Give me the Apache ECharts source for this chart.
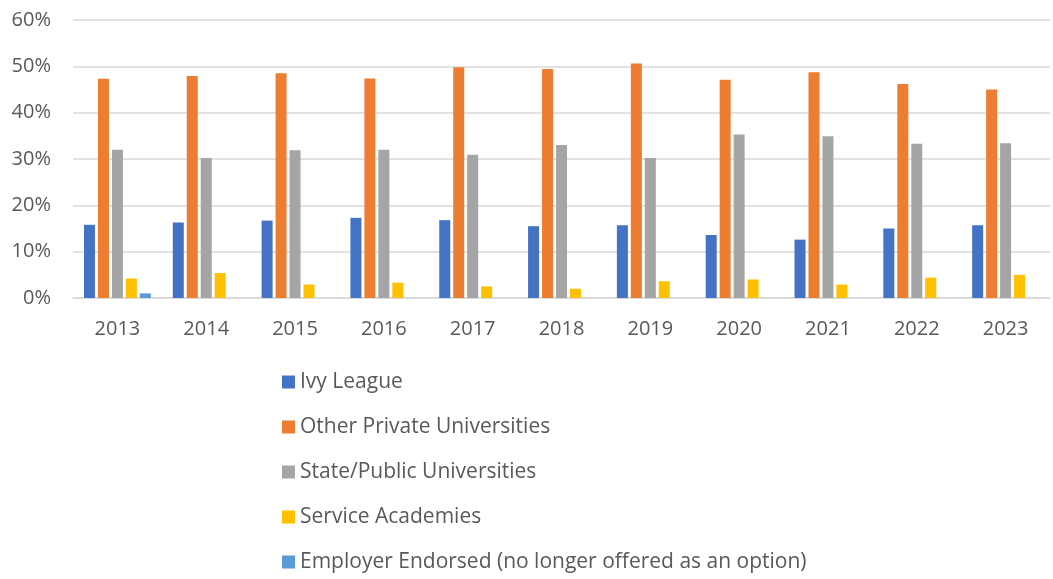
<!DOCTYPE html>
<html lang="en">
<head>
  <meta charset="utf-8">
  <title>Enrollment by school type</title>
  <script src="https://cdn.jsdelivr.net/npm/echarts@6/dist/echarts.min.js"></script>
  <style>
    html, body, #main { width: 100%; height: 100%; margin: 0; padding: 0; overflow: hidden; background: #fff; }
  </style>
</head>
<body>
  <div id="main"></div>
  <script>
    var years = ['2013', '2014', '2015', '2016', '2017', '2018', '2019', '2020', '2021', '2022', '2023'];
    var ivyLeague = [15.8, 16.3, 16.7, 17.3, 16.8, 15.5, 15.7, 13.6, 12.6, 15.0, 15.7];
    var otherPrivate = [47.3, 47.9, 48.5, 47.4, 49.8, 49.4, 50.6, 47.1, 48.7, 46.2, 45.0];
    var statePublic = [32.0, 30.2, 31.9, 32.0, 30.9, 33.0, 30.2, 35.3, 34.9, 33.3, 33.4];
    var serviceAcademies = [4.2, 5.4, 2.9, 3.3, 2.5, 2.0, 3.6, 4.0, 2.9, 4.4, 5.0];
    var employerEndorsed = [1.0, null, null, null, null, null, null, null, null, null, null];

    var font = 'Open Sans';
    var chart = echarts.init(document.getElementById('main'));

    function bar(name, data, color) {
      return {
        name: name,
        type: 'bar',
        data: data,
        barWidth: 11,
        barGap: '27%',
        itemStyle: { color: color }
      };
    }

    chart.setOption({
      animation: false,
      grid: { left: 73, right: 3, top: 20, bottom: 281 },
      legend: {
        orient: 'vertical',
        left: 282,
        top: 371,
        height: 208,
        padding: 0,
        icon: 'rect',
        itemWidth: 13,
        itemHeight: 13,
        itemGap: 23,
        textStyle: { fontFamily: font, fontSize: 21, lineHeight: 22, color: '#595959' }
      },
      xAxis: {
        type: 'category',
        data: years,
        axisLine: { lineStyle: { color: '#d9d9d9', width: 1.5 } },
        axisTick: { show: false },
        axisLabel: { fontFamily: font, fontSize: 20, color: '#595959', margin: 21 }
      },
      yAxis: {
        type: 'value',
        min: 0,
        max: 60,
        interval: 10,
        axisLabel: { fontFamily: font, fontSize: 20, color: '#595959', margin: 22, formatter: '{value}%' },
        splitLine: { lineStyle: { color: '#d9d9d9', width: 1.5 } }
      },
      series: [
        bar('Ivy League', ivyLeague, '#4472C4'),
        bar('Other Private Universities', otherPrivate, '#ED7D31'),
        bar('State/Public Universities', statePublic, '#A5A5A5'),
        bar('Service Academies', serviceAcademies, '#FFC000'),
        bar('Employer Endorsed (no longer offered as an option)', employerEndorsed, '#5B9BD5')
      ]
    });
  </script>
</body>
</html>
